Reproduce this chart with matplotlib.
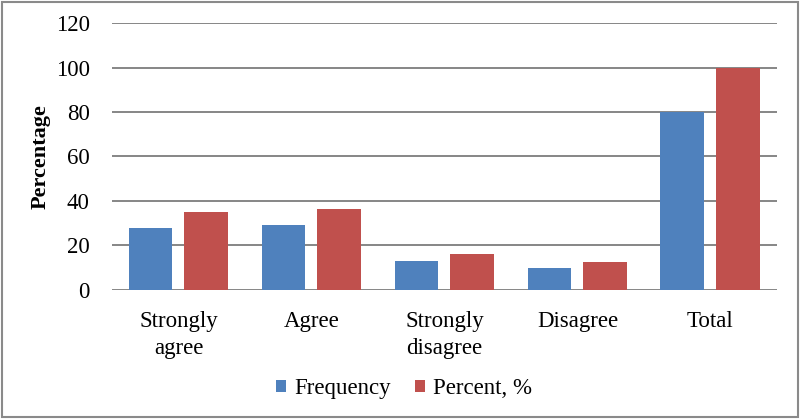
import matplotlib.pyplot as plt
from matplotlib.patches import Rectangle
import numpy as np

# Data
categories = ["Strongly\nagree", "Agree", "Strongly\ndisagree", "Disagree", "Total"]
frequency = [28, 29, 13, 10, 80]
percent = [35, 36.25, 16.25, 12.5, 100]
yticks = [0, 20, 40, 60, 80, 100, 120]

plt.rcParams['font.family'] = ['Liberation Serif', 'DejaVu Serif']

fig = plt.figure(figsize=(8, 4.19), dpi=100)
ax = fig.add_axes([0.14, 0.308, 0.831, 0.637])

x = np.arange(len(categories))
w = 0.33
ax.bar(x - 0.21, frequency, w, color='#4F81BD', label='Frequency', zorder=3)
ax.bar(x + 0.21, percent, w, color='#C0504D', label='Percent, %', zorder=3)

ax.set_xlim(-0.5, len(categories) - 0.5)
ax.set_ylim(0, 120)
ax.set_yticks(yticks)
ax.set_xticks(x)
ax.set_xticklabels(categories, fontsize=16.5, linespacing=1.4)
ax.tick_params(axis='y', labelsize=16.5, length=0, pad=16)
ax.tick_params(axis='x', length=0, pad=15)

ax.yaxis.grid(True, color='#868686', linewidth=1.4, zorder=0)
for s in ax.spines.values():
    s.set_visible(False)

ax.set_ylabel('Percentage', fontsize=16, fontweight='bold', labelpad=4)

fig.legend(loc='center', bbox_to_anchor=(0.505, 0.073), ncol=2, frameon=False,
           fontsize=16.5, handlelength=0.45, handleheight=0.45, handletextpad=0.35,
           columnspacing=1.05)

# outer border of the chart
fig.patches.append(Rectangle((0.003, 0.005), 0.994, 0.99, transform=fig.transFigure,
                             fill=False, edgecolor='#8a8a8a', linewidth=1.5))

fig.savefig('out.png', dpi=100)
